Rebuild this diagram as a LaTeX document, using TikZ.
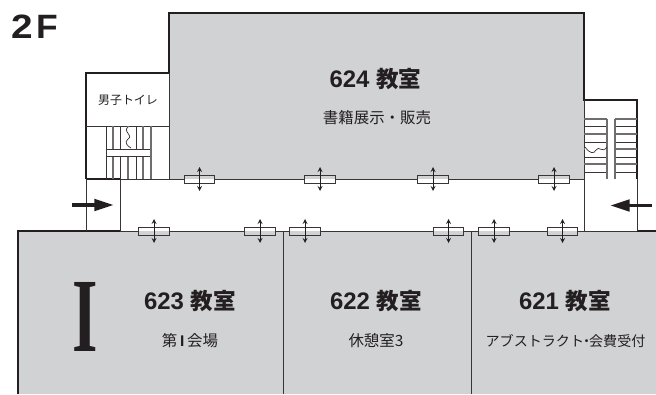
\documentclass[tikz,border=0pt]{standalone}
\usepackage{fontspec}
\setmainfont{Liberation Sans}
\newfontfamily\cjk{Noto Sans CJK JP}
\newfontfamily\romanI{Liberation Serif}
\definecolor{roomgray}{HTML}{D1D2D4}
\definecolor{ink}{HTML}{231F20}
\newcommand{\roomnum}[1]{{\fontspec{Liberation Sans}\bfseries\fontsize{17}{18}\selectfont #1}\kern5pt 教室}
\tikzset{
  wall/.style={draw=ink,line width=1.1pt},
  thinwall/.style={draw=ink!90,line width=.7pt},
  tread/.style={draw=ink!65,line width=.9pt},
  roomname/.style={font=\cjk\bfseries\fontsize{16}{18}\selectfont,text=ink},
  roomuse/.style={font=\cjk\fontsize{11}{13}\selectfont,text=ink},
  doorbox/.style={draw=ink!90,line width=.7pt,minimum width=31*.71pt,minimum height=8*.71pt,inner sep=0pt},
  swing/.style={draw=ink,line width=.6pt,<->,>=stealth},
  entry/.style={draw=ink,line width=2.8pt,-{Triangle[length=14pt,width=8pt]}}
}
\usetikzlibrary{arrows.meta}
\begin{document}
\begin{tikzpicture}[x=.025cm,y=-.025cm]
  \useasboundingbox (0,0) rectangle (656,394);
  % rooms
  \fill[roomgray] (169,13) rectangle (584,179);
  \fill[roomgray] (18,231) rectangle (656,394);
  \draw[thinwall] (120,179) -- (584,179);
  \draw[thinwall] (120,231) -- (584,231);
  \draw[thinwall] (283,231) -- (283,394);
  \draw[thinwall] (471,231) -- (471,394);
  \draw[wall] (86,179) -- (86,73) -- (169,73) -- (169,13) -- (584,13) -- (584,100) -- (637,100) -- (637,179);
  \draw[wall] (18,394) -- (18,231) -- (120,231);
  \draw[wall] (637,231) -- (656,231);
  \draw[thinwall] (169,73) -- (169,179);
  \draw[thinwall] (86,126) -- (169,126);
  \draw[wall] (86,179) -- (120,179);
  \draw[thinwall] (86,179) -- (86,231) (120,179) -- (120,231);
  \draw[thinwall] (584,100) -- (584,231) (637,179) -- (637,231);
  \draw[thinwall] (584,231) -- (637,231);
  % left stairs
  \foreach \x in {113,128,143} {
    \draw[tread] (\x,126) -- (\x,149) (\x,156) -- (\x,179);
  }
  \foreach \x in {120.5,136} {
    \draw[thinwall] (\x,126) -- (\x,149) (\x,156) -- (\x,179);
  }
  \draw[thinwall] (106,126) -- (106,179);
  \draw[thinwall] (106,149) rectangle (151,156);
  \draw[tread] (151,126) -- (151,179);
  \fill[white] (124,127) rectangle (132,149);
  \draw[thinwall,line width=.5pt] (128,127) .. controls (122,132) and (134,135) .. (128,139) .. controls (124,142) and (127,146) .. (131,148);
  % right stairs
  \foreach \y in {119,134,149,164} {
    \draw[tread] (584,\y) -- (607,\y) (615,\y) -- (637,\y);
  }
  \foreach \y in {126,142,157,172} {
    \draw[thinwall] (584,\y) -- (607,\y) (615,\y) -- (637,\y);
  }
  \draw[tread] (607,119) -- (607,179) (615,119) -- (615,179);
  \fill[white] (585,143.5) rectangle (606,156);
  \draw[thinwall,line width=.5pt] (585,147) .. controls (590,154) and (594,154) .. (596,150) .. controls (599,145) and (602,154) .. (607,147);
  % doors
  \foreach \x in {199.5,320,433,554} {
    \fill[roomgray] (\x-15.5,175) rectangle (\x+15.5,179);
    \fill[white] (\x-15.5,179) rectangle (\x+15.5,183);
    \node[doorbox] at (\x,179) {};
    \draw[swing] (\x,167) -- (\x,191);
  }
  \foreach \x in {154,260,305,448.5,494,562.5} {
    \fill[white] (\x-15.5,227) rectangle (\x+15.5,231);
    \fill[roomgray] (\x-15.5,231) rectangle (\x+15.5,235);
    \node[doorbox] at (\x,231) {};
    \draw[swing] (\x,219) -- (\x,243);
  }
  % entrances
  \coordinate (inl) at (72,205);
  \coordinate (inlend) at (114,205);
  \coordinate (inr) at (652,205.5);
  \coordinate (inrend) at (610,205.5);
  \draw[entry] (inl) -- (inlend);
  \draw[entry] (inr) -- (inrend);
  % labels
  \node[font=\bfseries\fontsize{24}{27}\selectfont,text=ink,inner sep=0pt] (floor) at (34.5,26.5) {\scalebox{1.15}[1]{2}\kern2.5pt\scalebox{1.05}[1]{F}};
  \node[roomname] (r624) at (375.5,79) {\roomnum{624}};
  \node[roomuse] (u624) at (377,118) {書籍展示・販売};
  \node[roomuse,font=\cjk\fontsize{8.5}{11}\selectfont] (wc) at (128,100) {男子トイレ};
  \node[roomname] (r623) at (190,301) {\roomnum{623}};
  \node[roomuse] (u623) at (190,341) {第\kern2pt{\fontspec{Liberation Sans}\bfseries I}\kern2pt 会場};
  \node[roomname] (r622) at (376,301) {\roomnum{622}};
  \node[roomuse] (u622) at (376,341) {休憩室3};
  \node[roomname] (r621) at (565,301) {\roomnum{621}};
  \node[roomuse,font=\cjk\fontsize{10}{12}\selectfont] (u621) at (565.5,341) {アブストラクト\kern-3.2pt・\kern-3.2pt 会費受付};
  \node[inner sep=0pt,text=ink] (hall) at (85,317) {\romanI\bfseries\fontsize{75}{75}\selectfont\scalebox{.62}[1]{I}};
\end{tikzpicture}
\end{document}
